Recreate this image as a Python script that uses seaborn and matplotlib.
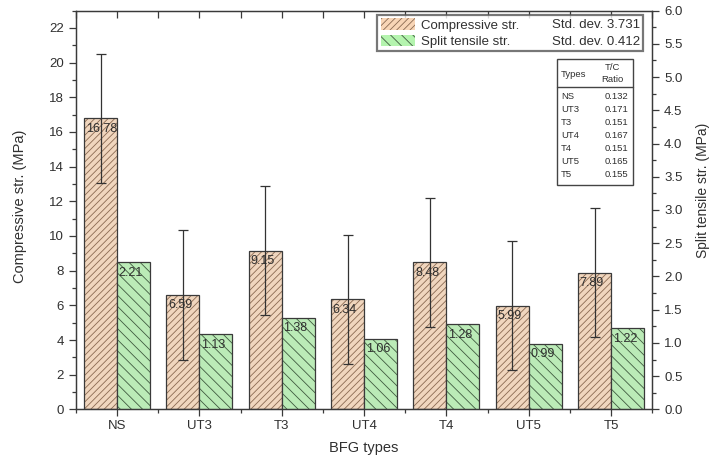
import numpy as np
import pandas as pd
import matplotlib
matplotlib.use("Agg")
import matplotlib.pyplot as plt
from matplotlib.patches import Rectangle, Patch
from matplotlib.ticker import MultipleLocator
import seaborn as sns

# ---------------- data ----------------
types = ["NS", "UT3", "T3", "UT4", "T4", "UT5", "T5"]
compressive = [16.78, 6.59, 9.15, 6.34, 8.48, 5.99, 7.89]
tensile = [2.21, 1.13, 1.38, 1.06, 1.28, 0.99, 1.22]
comp_std = 3.731
tens_std = 0.412
tc_ratio = [0.132, 0.171, 0.151, 0.167, 0.151, 0.165, 0.155]
series_names = ["Compressive str.", "Split tensile str."]

# ---------------- style ----------------
sns.set_style("ticks")
plt.rcParams["font.family"] = ["Liberation Sans", "DejaVu Sans"]
plt.rcParams["font.size"] = 9
plt.rcParams["hatch.linewidth"] = 0.6

comp_face = "#F8D5B6"
comp_hatch = "#8a6a52"
tens_face = "#B4F4AE"
tens_hatch = "#3f5a3f"
edge = "#3a3a3a"
txt = "#303030"

df = pd.DataFrame({
    "type": types * 2,
    "series": [series_names[0]] * len(types) + [series_names[1]] * len(types),
    "value": compressive + tensile,
})

fig = plt.figure(figsize=(7.09, 4.61), dpi=100)
ax = fig.add_axes([0.107, 0.112, 0.813, 0.865])
ax2 = ax.twinx()

sns.barplot(data=df[df.series == series_names[0]], x="type", y="value", hue="series",
            hue_order=series_names, order=types, palette=[comp_face, tens_face],
            dodge=True, width=0.8, errorbar=None, legend=False, ax=ax)
sns.barplot(data=df[df.series == series_names[1]], x="type", y="value", hue="series",
            hue_order=series_names, order=types, palette=[comp_face, tens_face],
            dodge=True, width=0.8, errorbar=None, legend=False, ax=ax2)


def style_bars(axis, hatch, hcolor):
    patches = [p for p in axis.patches if p.get_height() > 0]
    for p in patches:
        p.set_hatch(hatch)
        p.set_edgecolor(hcolor)
        p.set_linewidth(0)
        r = Rectangle(p.get_xy(), p.get_width(), p.get_height(), fill=False,
                      edgecolor=edge, linewidth=0.9, zorder=p.get_zorder() + 0.1)
        axis.add_patch(r)
    return patches


cp = style_bars(ax, "/////", comp_hatch)
tp = style_bars(ax2, "\\\\\\", tens_hatch)

# error bars on compressive
xs = [p.get_x() + p.get_width() / 2 for p in cp]
ax.errorbar(xs, compressive, yerr=comp_std, fmt="none", ecolor="#333333",
            elinewidth=0.9, capsize=3.5, capthick=0.9, zorder=5)

# value labels
for p, v in zip(cp, compressive):
    ax.text(p.get_x() + 0.02, v - 0.25, f"{v:.2f}", ha="left", va="top",
            fontsize=9, color=txt, zorder=6)
for p, v in zip(tp, tensile):
    ax2.text(p.get_x() + 0.02, v - 0.065, f"{v:.2f}", ha="left", va="top",
             fontsize=9, color=txt, zorder=6)

# axes limits / ticks
ax.set_xlim(-0.5, 6.5)
ax.set_ylim(0, 23)
ax2.set_ylim(0, 6)
ax.yaxis.set_major_locator(MultipleLocator(2))
ax.yaxis.set_minor_locator(MultipleLocator(1))
ax2.yaxis.set_major_locator(MultipleLocator(0.5))
ax2.yaxis.set_minor_locator(MultipleLocator(0.25))
ax2.yaxis.set_major_formatter(matplotlib.ticker.FormatStrFormatter("%.1f"))
ax.set_xticks(range(len(types)))
ax.set_xticklabels(types)
ax.set_xticks(np.arange(-0.5, 7, 1.0), minor=True)

for a in (ax, ax2):
    for s in a.spines.values():
        s.set_color(edge)
        s.set_linewidth(0.9)
    a.tick_params(which="major", direction="out", length=5, width=0.9,
                  color=edge, labelcolor=txt, labelsize=9.5)
    a.tick_params(which="minor", direction="out", length=3, width=0.9, color=edge)
    a.set_xlabel("")
ax.tick_params(axis="x", which="major", pad=3)

top = ax.secondary_xaxis("top")
top.set_xticks(np.arange(-0.5, 7, 0.5))
top.tick_params(direction="in", length=5, width=0.9, color=edge, labeltop=False)
top.spines["top"].set_visible(False)

ax.set_xlabel("BFG types", fontsize=10.5, color=txt, labelpad=6)
ax.set_ylabel("Compressive str. (MPa)", fontsize=10.5, color=txt)
ax2.set_ylabel("Split tensile str. (MPa)", fontsize=10, color=txt)
ax.yaxis.set_label_coords(-0.085, 0.51)
ax2.yaxis.set_label_coords(1.075, 0.548)

# legend
handles = [Patch(facecolor=comp_face, edgecolor=comp_hatch, hatch="/////", linewidth=0),
           Patch(facecolor=tens_face, edgecolor=tens_hatch, hatch="\\\\\\", linewidth=0)]
leg = ax2.legend(handles, series_names, loc="upper left",
                 bbox_to_anchor=(0.523, 0.901, 0.461, 0.088), mode="expand",
                 borderaxespad=0, fontsize=9.5, frameon=True, fancybox=False,
                 handlelength=2.6, handleheight=0.95, handletextpad=0.45,
                 labelspacing=0.25, borderpad=0.25)
leg.get_frame().set_edgecolor("#555555")
leg.get_frame().set_linewidth(1.6)
for t in leg.get_texts():
    t.set_color(txt)
ax2.text(0.979, 0.963, f"Std. dev. {comp_std:.3f}", transform=ax2.transAxes,
         ha="right", va="center", fontsize=9.5, color=txt, zorder=10)
ax2.text(0.979, 0.922, f"Std. dev. {tens_std:.3f}", transform=ax2.transAxes,
         ha="right", va="center", fontsize=9.5, color=txt, zorder=10)

# T/C ratio table
tx0, tx1, ty0, ty1 = 0.835, 0.967, 0.563, 0.879
ax2.add_patch(Rectangle((tx0, ty0), tx1 - tx0, ty1 - ty0, transform=ax2.transAxes,
                        fill=True, facecolor="white", edgecolor="#444444",
                        linewidth=1.0, zorder=9))
ax2.plot([tx0, tx1], [0.809, 0.809], transform=ax2.transAxes, color="#444444",
         linewidth=1.0, zorder=10)
ax2.text(0.842, 0.840, "Types", transform=ax2.transAxes, ha="left", va="center",
         fontsize=6.8, color=txt, zorder=10)
ax2.text(0.931, 0.858, "T/C", transform=ax2.transAxes, ha="center", va="center",
         fontsize=6.8, color=txt, zorder=10)
ax2.text(0.931, 0.827, "Ratio", transform=ax2.transAxes, ha="center", va="center",
         fontsize=6.8, color=txt, zorder=10)
for i, (t, r) in enumerate(zip(types, tc_ratio)):
    yy = 0.784 - i * 0.0327
    ax2.text(0.842, yy, t, transform=ax2.transAxes, ha="left", va="center",
             fontsize=6.8, color=txt, zorder=10)
    ax2.text(0.959, yy, f"{r:.3f}", transform=ax2.transAxes, ha="right", va="center",
             fontsize=6.8, color=txt, zorder=10)

fig.savefig("out.png", dpi=100)
